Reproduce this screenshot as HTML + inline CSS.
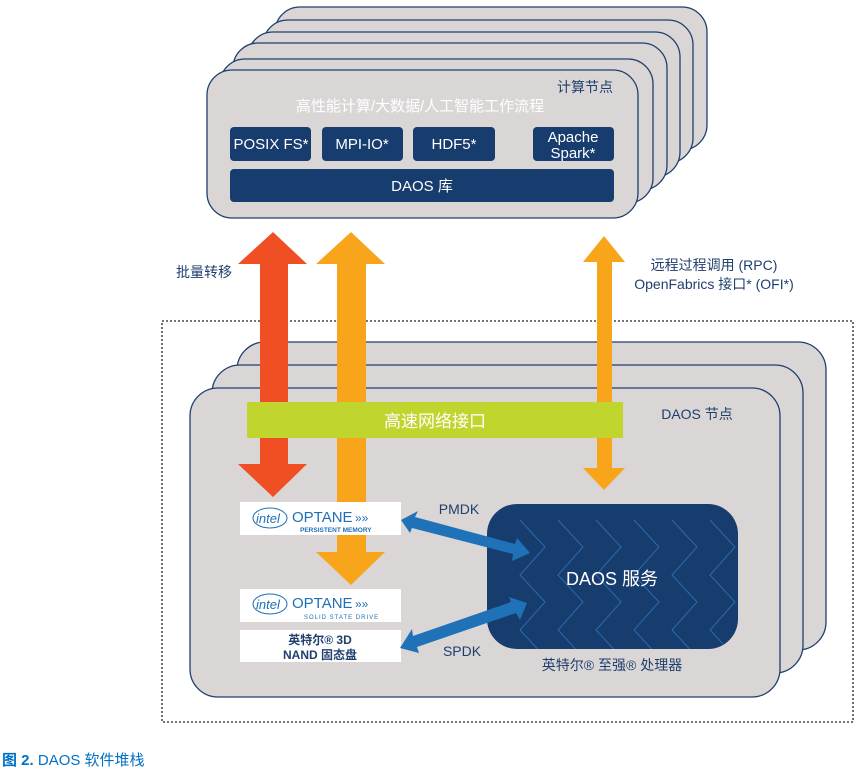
<!DOCTYPE html>
<html><head><meta charset="utf-8"><style>
html,body{margin:0;padding:0;background:#fff;}
svg{display:block;font-family:"Liberation Sans","Noto Sans CJK SC",sans-serif;}
</style></head><body>
<svg width="861" height="769" viewBox="0 0 861 769" xmlns="http://www.w3.org/2000/svg">
<defs>
<clipPath id="svc"><rect x="487" y="504" width="251" height="145" rx="30"/></clipPath>
</defs>
<!-- compute stack -->
<g fill="#dad6d6" stroke="#1f3f6e" stroke-width="1.3">
<rect x="275" y="7" width="432" height="143" rx="25"/>
<rect x="263" y="20" width="430" height="143" rx="25"/>
<rect x="248" y="32" width="432" height="145" rx="25"/>
<rect x="233" y="43" width="434" height="147" rx="25"/>
<rect x="220" y="59" width="433" height="144" rx="25"/>
<rect x="207" y="70" width="431" height="148" rx="25"/>
</g>
<text x="613" y="92" font-size="14" fill="#1f3f6e" text-anchor="end">计算节点</text>
<text x="420" y="111" font-size="15" fill="#fff" text-anchor="middle">高性能计算/大数据/人工智能工作流程</text>
<g fill="#173c6e">
<rect x="230" y="127" width="81" height="34" rx="4"/>
<rect x="322" y="127" width="81" height="34" rx="4"/>
<rect x="413" y="127" width="82" height="34" rx="4"/>
<rect x="533" y="127" width="81" height="34" rx="4"/>
<rect x="230" y="169" width="384" height="33" rx="4"/>
</g>
<g fill="#fff" font-size="15" text-anchor="middle">
<text x="271" y="149">POSIX FS*</text>
<text x="362" y="149">MPI-IO*</text>
<text x="454" y="149">HDF5*</text>
<text x="573" y="142">Apache</text>
<text x="573" y="158">Spark*</text>
<text x="422" y="191">DAOS 库</text>
</g>
<!-- labels -->
<text x="204" y="277" font-size="14" fill="#1f3f6e" text-anchor="middle">批量转移</text>
<text x="714" y="270" font-size="14" fill="#1f3f6e" text-anchor="middle">远程过程调用 (RPC)</text>
<text x="714" y="289" font-size="14" fill="#1f3f6e" text-anchor="middle">OpenFabrics 接口* (OFI*)</text>
<!-- dashed -->
<rect x="162" y="321" width="691" height="401" fill="none" stroke="#222" stroke-width="1.3" stroke-dasharray="2,2"/>
<!-- daos stack -->
<g fill="#dad6d6" stroke="#1f3f6e" stroke-width="1.3">
<rect x="237" y="342" width="589" height="308" rx="28"/>
<rect x="212" y="365" width="591" height="308" rx="28"/>
<rect x="190" y="388" width="590" height="309" rx="28"/>
</g>
<text x="697" y="419" font-size="14" fill="#1f3f6e" text-anchor="middle">DAOS 节点</text>
<!-- arrows -->
<polygon fill="#f04e23" points="273,232 307,264 288,264 288,464 307,464 273,497 238,464 260,464 260,264 238,264"/>
<polygon fill="#f8a51b" points="351,232 385,264 366,264 366,552 385,552 351,585 316,552 337,552 337,264 316,264"/>
<polygon fill="#f8a51b" points="604,236 625,262 612,262 612,468 625,468 604,490 583,468 597,468 597,262 583,262"/>
<rect x="247" y="402" width="376" height="36" fill="#c1d52f"/>
<text x="435" y="427" font-size="17" fill="#fff" text-anchor="middle">高速网络接口</text>
<!-- storage -->
<rect x="240" y="502" width="161" height="33" fill="#fff"/>
<text x="256" y="523" font-size="13" fill="#1f6fb5" font-style="italic">intel</text>
<ellipse cx="270" cy="518" rx="17" ry="10" fill="none" stroke="#1f6fb5" stroke-width="1"/>
<text x="292" y="522" font-size="15" fill="#1f6fb5">OPTANE</text>
<text x="355" y="522" font-size="12" fill="#1f6fb5">»»</text>
<text x="300" y="532" font-size="6.5" fill="#1f6fb5" font-weight="bold">PERSISTENT MEMORY</text>
<rect x="240" y="589" width="161" height="33" fill="#fff"/>
<text x="256" y="609" font-size="13" fill="#1f6fb5" font-style="italic">intel</text>
<ellipse cx="270" cy="604" rx="17" ry="10" fill="none" stroke="#1f6fb5" stroke-width="1"/>
<text x="292" y="608" font-size="15" fill="#1f6fb5">OPTANE</text>
<text x="355" y="608" font-size="12" fill="#1f6fb5">»»</text>
<text x="304" y="619" font-size="6" fill="#1f6fb5" letter-spacing="1">SOLID STATE DRIVE</text>
<rect x="240" y="630" width="161" height="32" fill="#fff"/>
<text x="320" y="644" font-size="12" font-weight="bold" fill="#1f3f6e" text-anchor="middle">英特尔® 3D</text>
<text x="320" y="659" font-size="12" font-weight="bold" fill="#1f3f6e" text-anchor="middle">NAND 固态盘</text>
<!-- service -->
<rect x="487" y="504" width="251" height="145" rx="30" fill="#173c6e"/>
<g clip-path="url(#svc)" fill="none" stroke="#2a6ab0" stroke-width="1">
<polyline points="520,520 545,547 520,575 545,602 520,630 545,657"/>
<polyline points="558,520 583,547 558,575 583,602 558,630 583,657"/>
<polyline points="596,520 621,547 596,575 621,602 596,630 621,657"/>
<polyline points="634,520 659,547 634,575 659,602 634,630 659,657"/>
<polyline points="672,520 697,547 672,575 697,602 672,630 697,657"/>
<polyline points="710,520 735,547 710,575 735,602 710,630 735,657"/>
</g>
<text x="612" y="585" font-size="18" fill="#fff" text-anchor="middle">DAOS 服务</text>
<text x="612" y="670" font-size="14" fill="#1f3f6e" text-anchor="middle">英特尔® 至强® 处理器</text>
<!-- blue arrows -->
<g fill="#1f72b8">
<polygon points="401,520 418,511 415,517 515,544 517,538 530,553 512,561 513,554 412,528 410,533"/>
<polygon points="400,648 412,629 413,636 511,602 509,597 527,603 520,620 516,613 417,647 419,653"/>
</g>
<text x="459" y="514" font-size="14" fill="#1f3f6e" text-anchor="middle">PMDK</text>
<text x="462" y="656" font-size="14" fill="#1f3f6e" text-anchor="middle">SPDK</text>
<!-- caption -->
<text x="2" y="765" font-size="15" fill="#0071c5"><tspan font-weight="bold">图 2.</tspan> DAOS 软件堆栈</text>
</svg>
</body></html>
